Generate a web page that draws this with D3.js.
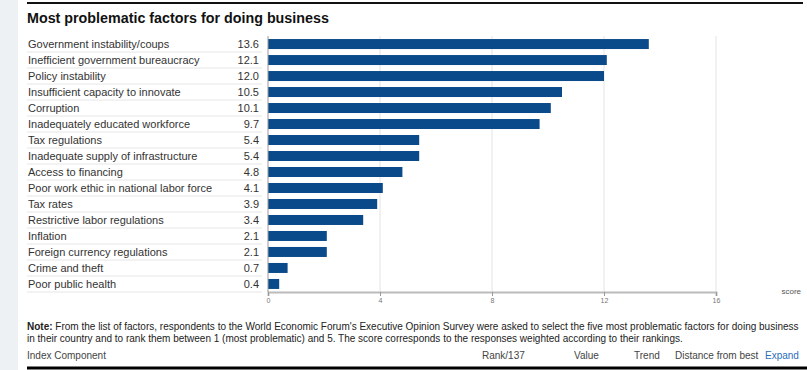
<!DOCTYPE html>
<html>
<head>
<meta charset="utf-8">
<script src="https://cdn.jsdelivr.net/npm/d3@7"></script>
<style>
  body { margin: 0; background: #fff; font-family: "Liberation Sans", Arial, sans-serif; }
</style>
</head>
<body>
<div id="chart"></div>
<script>
var factors = ['Government instability/coups', 'Inefficient government bureaucracy', 'Policy instability',
  'Insufficient capacity to innovate', 'Corruption', 'Inadequately educated workforce', 'Tax regulations',
  'Inadequate supply of infrastructure', 'Access to financing', 'Poor work ethic in national labor force',
  'Tax rates', 'Restrictive labor regulations', 'Inflation', 'Foreign currency regulations',
  'Crime and theft', 'Poor public health']
var scores = [13.6, 12.1, 12.0, 10.5, 10.1, 9.7, 5.4, 5.4, 4.8, 4.1, 3.9, 3.4, 2.1, 2.1, 0.7, 0.4]
var ticks = [0, 4, 8, 12, 16]

var w = 807, h = 370
var svg = d3.select('#chart').append('svg').attr('width', w).attr('height', h)

// left grey strip
svg.append('rect').attr('x', 0).attr('y', 0).attr('width', 18).attr('height', h).attr('fill', '#eef1f4')

// top rule + title
svg.append('line').attr('x1', 27).attr('x2', 803).attr('y1', 3).attr('y2', 3).attr('stroke', '#111').attr('stroke-width', 2)
svg.append('text').attr('x', 27).attr('y', 23).text('Most problematic factors for doing business')
  .attr('font-size', 14.3).attr('font-weight', 'bold').attr('fill', '#111')

var x = d3.scaleLinear().domain([0, 16]).range([268, 716])
var y = d3.scaleBand().domain(factors).range([36, 292]).paddingInner(0.375).paddingOuter(0.19)
var row = d3.scaleBand().domain(factors).range([36, 292])

// grid
svg.append('g').selectAll('line').data(ticks.slice(1)).join('line')
  .attr('x1', d => x(d)).attr('x2', d => x(d)).attr('y1', 36).attr('y2', 292)
  .attr('stroke', '#e3e3e3')

// rows
var rows = svg.append('g')
rows.selectAll('line').data(factors).join('line')
  .attr('x1', 27).attr('x2', 262).attr('y1', d => row(d) + row.bandwidth()).attr('y2', d => row(d) + row.bandwidth())
  .attr('stroke', '#e6e6e6')
rows.selectAll('text.lab').data(factors).join('text').attr('class', 'lab')
  .attr('x', 28).attr('y', d => row(d) + row.bandwidth() / 2 + 4).text(d => d)
  .attr('font-size', 11).attr('fill', '#333')
rows.selectAll('text.val').data(scores).join('text').attr('class', 'val')
  .attr('x', 259).attr('y', (d, i) => row(factors[i]) + row.bandwidth() / 2 + 4)
  .attr('text-anchor', 'end').text(d => d.toFixed(1))
  .attr('font-size', 11).attr('fill', '#333')

// bars
svg.append('g').selectAll('rect').data(scores).join('rect')
  .attr('x', x(0)).attr('y', (d, i) => y(factors[i]))
  .attr('width', d => x(d) - x(0)).attr('height', y.bandwidth())
  .attr('fill', '#0b4a8a')

// axis
var ax = svg.append('g').attr('transform', 'translate(0,292)')
  .call(d3.axisBottom(x).tickValues(ticks).tickSize(4).tickPadding(2))
ax.select('.domain').attr('stroke', '#bbb').attr('stroke-width', 2)
ax.selectAll('.tick line').attr('stroke', '#999')
ax.selectAll('.tick text').attr('font-size', 7).attr('fill', '#777').attr('font-family', '"Liberation Sans", Arial, sans-serif')
svg.append('line').attr('x1', x(0)).attr('x2', x(0)).attr('y1', 36).attr('y2', 292).attr('stroke', '#999')
svg.append('text').attr('x', 801).attr('y', 294).attr('text-anchor', 'end').text('score')
  .attr('font-size', 8).attr('fill', '#555')

// note
var note = svg.append('text').attr('x', 27).attr('y', 330).attr('font-size', 10).attr('fill', '#222')
note.append('tspan').attr('font-weight', 'bold').text('Note:')
note.append('tspan').text(" From the list of factors, respondents to the World Economic Forum's Executive Opinion Survey were asked to select the five most problematic factors for doing business")
svg.append('text').attr('x', 27).attr('y', 342).attr('font-size', 10).attr('fill', '#222')
  .text('in their country and to rank them between 1 (most problematic) and 5. The score corresponds to the responses weighted according to their rankings.')

// table header
var hdr = [['Index Component', 27, '#444'], ['Rank/137', 482, '#444'], ['Value', 574, '#444'],
  ['Trend', 634, '#444'], ['Distance from best', 675, '#444'], ['Expand', 765, '#2a6ebb']]
svg.append('g').selectAll('text').data(hdr).join('text')
  .attr('x', d => d[1]).attr('y', 359).attr('fill', d => d[2])
  .attr('font-size', 10).text(d => d[0])
svg.append('line').attr('x1', 27).attr('x2', 807).attr('y1', 368).attr('y2', 368).attr('stroke', '#000').attr('stroke-width', 3)
</script>
</body>
</html>
